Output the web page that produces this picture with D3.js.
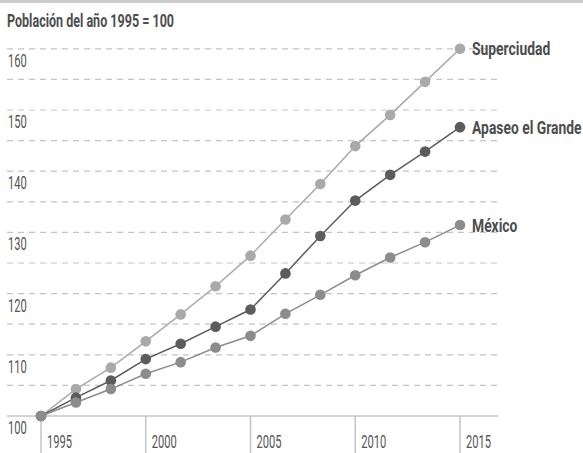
<!DOCTYPE html>
<html>
<head>
<meta charset="utf-8">
<script src="https://cdn.jsdelivr.net/npm/d3@7"></script>
<style>
  body { margin: 0; background: #fff; }
  svg { display: block; }
  text { font-family: Roboto, "Noto Sans", sans-serif; }
</style>
</head>
<body>
<svg width="583" height="453"></svg>
<script>
// one point every 20 months, 1995 -> 2015
var years = d3.range(13).map(function(i) { return 1995 + i * 20 / 12; });
var superciudad = [100, 104.4, 107.9, 112.2, 116.6, 121.2, 126.2, 132.1, 137.9, 144.1, 149.2, 154.6, 160.0];
var apaseo = [100, 103.0, 105.8, 109.3, 111.8, 114.6, 117.4, 123.3, 129.4, 135.2, 139.4, 143.2, 147.2];
var mexico = [100, 102.2, 104.4, 106.9, 108.8, 111.2, 113.1, 116.7, 119.8, 123.0, 125.9, 128.4, 131.2];
var seriesNames = ["Superciudad", "Apaseo el Grande", "México"];
var seriesColors = ["#a9a9a9", "#5c5c5c", "#8c8c8c"];
var xTicks = [1995, 2000, 2005, 2010, 2015];
var yTicks = [100, 110, 120, 130, 140, 150, 160];
var gridTicks = d3.range(105, 161, 5);

var svg = d3.select("svg"),
  width = +svg.attr("width"),
  height = +svg.attr("height");

var x = d3.scaleLinear().domain([1995, 2015]).range([41, 460]),
  y = d3.scaleLinear().domain([100, 160]).range([416, 48.8]);

// no condensed font available -> squeeze text horizontally
var titleSqueeze = 0.66, labelSqueeze = 0.73, thinSqueeze = 0.62;
function squeezed(sel, px, py, k) {
  return sel.attr("transform", "translate(" + px + "," + py + ") scale(" + k + ",1)");
}

// grey strip on top
svg.append("rect").attr("x", 0).attr("y", 0).attr("width", width).attr("height", 3).attr("fill", "#cccccc");

squeezed(svg.append("text"), 7, 27, titleSqueeze)
  .attr("font-size", 19).attr("font-weight", "bold")
  .attr("fill", "#4d4d4d")
  .text("Población del año 1995 = 100");

// dashed grid
svg.append("g").selectAll("line").data(gridTicks).enter().append("line")
  .attr("x1", 7).attr("x2", 498)
  .attr("y1", function(d) { return y(d); }).attr("y2", function(d) { return y(d); })
  .attr("stroke", "#c4c4c4").attr("stroke-width", 1.2)
  .attr("stroke-dasharray", "6,5");

// baseline
svg.append("line").attr("x1", 7).attr("x2", 498).attr("y1", y(100)).attr("y2", y(100))
  .attr("stroke", "#c4c4c4").attr("stroke-width", 1.5);

// y labels sit under their line
svg.append("g").selectAll("text").data(yTicks).enter().append("text")
  .each(function(d) { squeezed(d3.select(this), 8, y(d) + 18, thinSqueeze); })
  .attr("font-size", 18).attr("fill", "#555")
  .text(function(d) { return d; });

// x ticks hang below the baseline
var xg = svg.append("g").selectAll("g").data(xTicks).enter().append("g")
  .attr("transform", function(d) { return "translate(" + x(d) + ",0)"; });
xg.append("line").attr("y1", y(100)).attr("y2", height)
  .attr("stroke", "#c4c4c4").attr("stroke-width", 1.5);
xg.append("text")
  .each(function() { squeezed(d3.select(this), 6, 448, thinSqueeze); })
  .attr("font-size", 18).attr("fill", "#555")
  .text(function(d) { return d; });

var line = d3.line()
  .x(function(d, i) { return x(years[i]); })
  .y(function(d) { return y(d); });

[superciudad, apaseo, mexico].forEach(function(vals, k) {
  var g = svg.append("g");
  g.append("path").attr("d", line(vals))
    .attr("fill", "none").attr("stroke", seriesColors[k]).attr("stroke-width", 1.5);
  g.selectAll("circle").data(vals).enter().append("circle")
    .attr("cx", function(d, i) { return x(years[i]); })
    .attr("cy", function(d) { return y(d); })
    .attr("r", 5.3)
    .attr("fill", seriesColors[k]);
  squeezed(g.append("text"), x(2015) + 12, y(vals[vals.length - 1]) + 6.5, labelSqueeze)
    .attr("font-size", 19).attr("font-weight", "bold")
    .attr("fill", "#4d4d4d")
    .text(seriesNames[k]);
});
</script>
</body>
</html>
